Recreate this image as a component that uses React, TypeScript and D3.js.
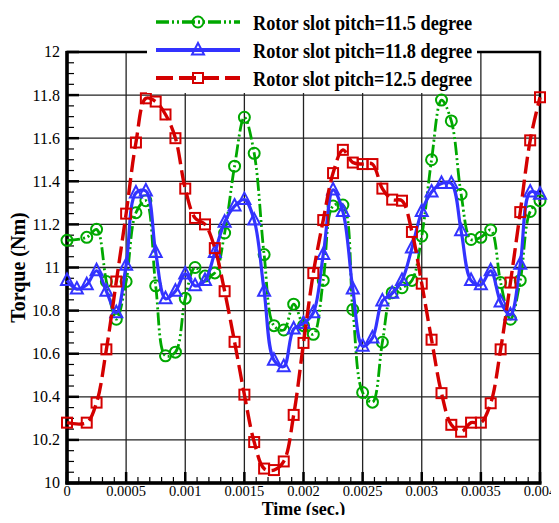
import React, { useEffect, useRef } from 'react';
import * as d3 from 'd3';

// sample times (sec.)
const time = [
  0, 0.0000833, 0.000167, 0.00025, 0.000333, 0.000417, 0.0005, 0.000583, 0.000667, 0.00075,
  0.000833, 0.000917, 0.001, 0.001083, 0.001167, 0.00125, 0.001333, 0.001417, 0.0015, 0.001583,
  0.001667, 0.00175, 0.001833, 0.001917, 0.002, 0.002083, 0.002167, 0.00225, 0.002333, 0.002417,
  0.0025, 0.002583, 0.002667, 0.00275, 0.002833, 0.002917, 0.003, 0.003083, 0.003167, 0.00325,
  0.003333, 0.003417, 0.0035, 0.003583, 0.003667, 0.00375, 0.003833, 0.003917, 0.004,
];

const pitch115 = [
  11.126, null, 11.14, 11.177, 10.935, 10.76, 10.935, 11.254, 11.31, 10.915,
  10.59, 10.607, 10.857, 11.0, 10.96, 10.975, 11.16, 11.47, 11.697, 11.53,
  11.06, 10.73, 10.71, 10.83, 10.73, 10.69, 10.94, 11.285, 11.29, 10.805,
  10.42, 10.375, 10.653, 10.883, 10.906, 10.94, 11.146, 11.5, 11.777, 11.68,
  11.34, 11.13, 11.14, 11.174, 10.93, 10.76, 10.94, 11.26, 11.31,
];

const pitch118 = [
  10.94, 10.9, 10.92, 10.985, 10.89, 10.79, 11.01, 11.346, 11.355, 11.07,
  10.855, 10.89, 10.97, 10.915, 10.94, 11.07, 11.21, 11.285, 11.315, 11.22,
  10.89, 10.57, 10.54, 10.715, 10.74, 10.79, 11.06, 11.36, 11.26, 10.9,
  10.635, 10.673, 10.845, 10.88, 10.94, 11.09, 11.26, 11.35, 11.39, 11.39,
  11.17, 10.94, 10.92, 10.985, 10.84, 10.78, 11.015, 11.35, 11.34,
];

const pitch125 = [
  10.28, null, 10.28, 10.373, 10.62, 10.935, 11.25, 11.58, 11.785, 11.77,
  11.71, 11.6, 11.366, 11.23, 11.2, 11.09, 10.89, 10.655, 10.41, 10.19,
  10.067, 10.06, 10.1, 10.316, 10.65, 10.974, 11.22, 11.438, 11.546, 11.487,
  11.48, 11.48, 11.366, 11.315, 11.31, 11.165, 10.925, 10.665, 10.417, 10.27,
  10.238, 10.28, 10.28, 10.37, 10.62, 10.93, 11.257, 11.59, 11.79,
];

const seriesNames = [
  'Rotor slot pitch=11.5 degree',
  'Rotor slot pitch=11.8 degree',
  'Rotor slot pitch=12.5 degree',
];

const xTicks = [0, 0.0005, 0.001, 0.0015, 0.002, 0.0025, 0.003, 0.0035, 0.004];
const xTickLabels = ['0', '0.0005', '0.001', '0.0015', '0.002', '0.0025', '0.003', '0.0035', '0.004'];
const yTicks = [10, 10.2, 10.4, 10.6, 10.8, 11, 11.2, 11.4, 11.6, 11.8, 12];
const yTickLabels = ['10', '10.2', '10.4', '10.6', '10.8', '11', '11.2', '11.4', '11.6', '11.8', '12'];

const styles = [
  { color: '#00a800', dash: '13,3,2,3,2,3', width: 2.8, marker: 'circle' },
  { color: '#3333ff', dash: null, width: 3.2, marker: 'triangle' },
  { color: '#d40000', dash: '17,6', width: 3.4, marker: 'square' },
];

const W = 559, H = 523;
const serif = '"Liberation Serif", "Times New Roman", serif';

const App = () => {
  const ref = useRef<SVGSVGElement>(null);

  useEffect(() => {
    const margin = { top: 52, right: 19, bottom: 40, left: 67 };
    const width = W - margin.left - margin.right;
    const height = H - margin.top - margin.bottom;

    const root = d3.select(ref.current);
    root.selectAll('*').remove();
    root.attr('width', W).attr('height', H).style('display', 'block');

    const svg = root.append('g').attr('transform', `translate(${margin.left},${margin.top})`);

    const x = d3.scaleLinear().domain([0, 0.004]).range([0, width]);
    const y = d3.scaleLinear().domain([10, 12]).range([height, 0]);

    // grid lines
    svg.append('g').selectAll('line').data(xTicks.slice(1, -1)).join('line')
      .attr('x1', d => x(d)).attr('x2', d => x(d)).attr('y1', 0).attr('y2', height)
      .attr('stroke', '#222').attr('stroke-width', 1.3);
    svg.append('g').selectAll('line').data(yTicks.slice(1, -1)).join('line')
      .attr('x1', 0).attr('x2', width).attr('y1', d => y(d)).attr('y2', d => y(d))
      .attr('stroke', '#222').attr('stroke-width', 1.3);

    // minor / major ticks pointing inward
    const xMinor = d3.range(0, 41).map(i => i * 0.0001);
    svg.append('g').selectAll('line').data(xMinor).join('line')
      .attr('x1', d => x(d)).attr('x2', d => x(d))
      .attr('y1', height).attr('y2', (d, i) => height - (i % 5 === 0 ? 11 : 6))
      .attr('stroke', '#000').attr('stroke-width', (d, i) => (i % 5 === 0 ? 2.5 : 1.2));
    const yMinor = d3.range(0, 41).map(i => 10 + i * 0.05);
    svg.append('g').selectAll('line').data(yMinor).join('line')
      .attr('y1', d => y(d)).attr('y2', d => y(d))
      .attr('x1', 0).attr('x2', (d, i) => (i % 4 === 0 ? 12 : 7))
      .attr('stroke', '#000').attr('stroke-width', (d, i) => (i % 4 === 0 ? 2.5 : 1.2));

    // frame
    svg.append('rect').attr('width', width).attr('height', height)
      .attr('fill', 'none').attr('stroke', '#000').attr('stroke-width', 2.5);
    svg.append('line').attr('x1', 0).attr('x2', 0).attr('y1', -1).attr('y2', height + 1.5)
      .attr('stroke', '#000').attr('stroke-width', 3.5);
    svg.append('line').attr('x1', -1.5).attr('x2', width + 1.5).attr('y1', height).attr('y2', height)
      .attr('stroke', '#000').attr('stroke-width', 3.5);

    // tick labels
    svg.append('g').selectAll('text').data(xTicks).join('text')
      .attr('x', d => x(d)).attr('y', height + 13)
      .attr('text-anchor', 'middle')
      .style('font-family', serif)
      .style('font-size', '14.5px')
      .text((d, i) => xTickLabels[i]);
    svg.append('g').selectAll('text').data(yTicks).join('text')
      .attr('x', -7).attr('y', d => y(d)).attr('dy', '0.34em')
      .attr('text-anchor', 'end')
      .style('font-family', serif)
      .style('font-size', '16px')
      .text((d, i) => yTickLabels[i]);

    // axis titles
    svg.append('text').attr('x', width / 2).attr('y', height + 32)
      .attr('text-anchor', 'middle')
      .style('font-family', serif)
      .style('font-size', '18px').style('font-weight', 'bold')
      .text('Time (sec.)');
    svg.append('text')
      .attr('transform', `translate(${-42},${height / 2}) rotate(-90)`)
      .attr('text-anchor', 'middle')
      .style('font-family', serif)
      .style('font-size', '20px').style('font-weight', 'bold')
      .text('Torque (Nm)');

    const drawMarker = (g: any, type: string, cx: number, cy: number, color: string) => {
      if (type === 'circle') {
        g.append('circle').attr('cx', cx).attr('cy', cy).attr('r', 5.5)
          .attr('fill', 'none').attr('stroke', color).attr('stroke-width', 2);
      } else if (type === 'square') {
        g.append('rect').attr('x', cx - 5).attr('y', cy - 5).attr('width', 10).attr('height', 10)
          .attr('fill', 'none').attr('stroke', color).attr('stroke-width', 2);
      } else {
        g.append('path').attr('d', `M${cx},${cy - 7}L${cx + 6},${cy + 4.5}L${cx - 6},${cy + 4.5}Z`)
          .attr('fill', 'none').attr('stroke', color).attr('stroke-width', 2);
      }
    };

    const allSeries = [pitch115, pitch118, pitch125];
    allSeries.forEach((vals, si) => {
      const st = styles[si];
      const pts = time.map((t, i) => [t, vals[i]] as [number, number | null])
        .filter(p => p[1] !== null) as [number, number][];
      const line = d3.line<[number, number]>()
        .curve(d3.curveCatmullRom.alpha(0.5))
        .x(d => x(d[0])).y(d => y(d[1]));
      const g = svg.append('g');
      g.append('path').datum(pts)
        .attr('fill', 'none').attr('stroke', st.color).attr('stroke-width', st.width)
        .attr('stroke-dasharray', st.dash)
        .attr('stroke-linejoin', 'round')
        .attr('d', line);
      pts.forEach(p => drawMarker(g, st.marker, x(p[0]), y(p[1]), st.color));
    });

    // legend
    const leg = root.append('g');
    leg.append('rect').attr('x', 147).attr('y', 0).attr('width', 330).attr('height', 93).attr('fill', '#fff');
    seriesNames.forEach((name, i) => {
      const st = styles[i];
      const ly = 22 + i * 28;
      leg.append('line').attr('x1', 156).attr('x2', 240).attr('y1', ly).attr('y2', ly)
        .attr('stroke', st.color).attr('stroke-width', st.width + 0.6)
        .attr('stroke-dasharray', st.dash);
      drawMarker(leg.append('g'), st.marker, 198, ly, st.color);
      leg.append('text').attr('x', 253).attr('y', ly).attr('dy', '0.35em')
        .attr('textLength', 219).attr('lengthAdjust', 'spacingAndGlyphs')
        .style('font-family', serif)
        .style('font-size', '22px').style('font-weight', 'bold')
        .text(name);
    });
  }, []);

  return (
    <div style={{ margin: -8 }}>
      <svg ref={ref}></svg>
    </div>
  );
};

export default App;
